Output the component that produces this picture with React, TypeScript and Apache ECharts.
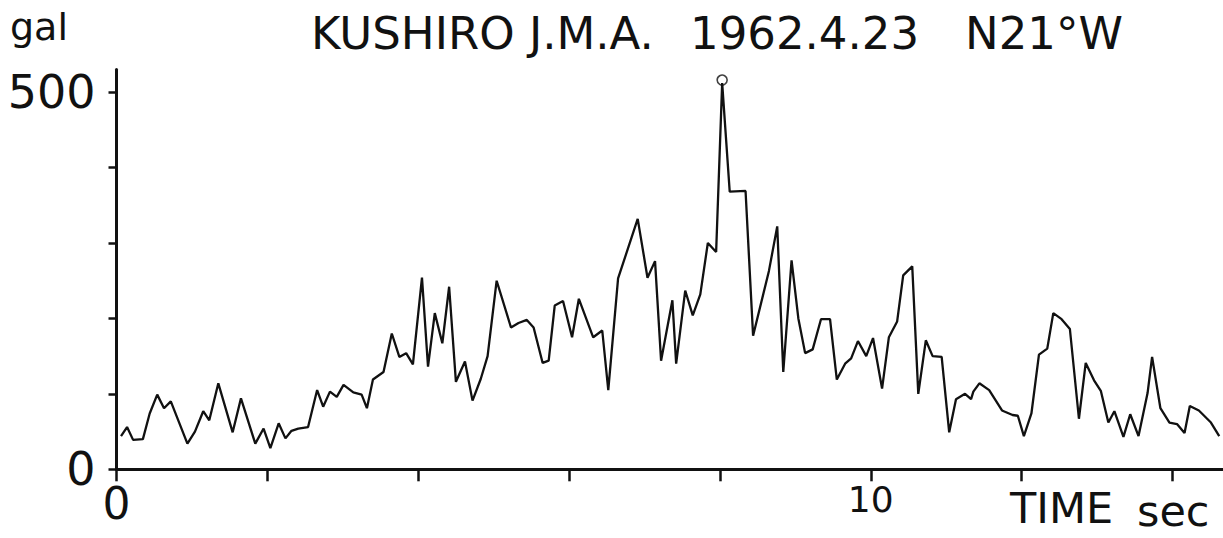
import React, { useEffect, useRef } from "react";
import * as echarts from "echarts";

const timeSec = [
  0.06, 0.14, 0.22, 0.35, 0.44, 0.54, 0.63, 0.72, 0.94, 1.04,
  1.15, 1.23, 1.35, 1.54, 1.65, 1.84, 1.95, 2.04, 2.15, 2.24,
  2.32, 2.41, 2.54, 2.66, 2.74, 2.83, 2.92, 3.01, 3.14, 3.25,
  3.32, 3.4, 3.54, 3.65, 3.75, 3.84, 3.93, 4.05, 4.13, 4.22,
  4.32, 4.41, 4.5, 4.62, 4.72, 4.83, 4.92, 5.04, 5.23, 5.33,
  5.44, 5.53, 5.65, 5.73, 5.81, 5.92, 6.04, 6.13, 6.32, 6.44,
  6.52, 6.65, 6.91, 7.04, 7.14, 7.22, 7.37, 7.42, 7.54, 7.64,
  7.74, 7.84, 7.95, 8.03, 8.13, 8.34, 8.44, 8.65, 8.76, 8.84,
  8.95, 9.04, 9.13, 9.23, 9.34, 9.46, 9.55, 9.66, 9.74, 9.83,
  9.94, 10.03, 10.15, 10.24, 10.35, 10.43, 10.55, 10.63, 10.73, 10.82,
  10.94, 11.04, 11.13, 11.25, 11.33, 11.36, 11.44, 11.57, 11.74, 11.88,
  11.95, 12.03, 12.13, 12.23, 12.34, 12.42, 12.53, 12.64, 12.76, 12.85,
  12.96, 13.05, 13.15, 13.23, 13.35, 13.44, 13.55, 13.67, 13.73, 13.84,
  13.96, 14.06, 14.16, 14.23, 14.35, 14.51, 14.62,
];
const accelGal = [
  44, 56, 39, 40, 74, 99, 81, 90, 34, 50,
  77, 65, 114, 49, 94, 34, 54, 28, 61, 41,
  51, 54, 56, 105, 83, 103, 96, 112, 102, 99,
  81, 119, 129, 180, 149, 154, 139, 254, 136, 207,
  167, 242, 116, 143, 91, 120, 150, 250, 188, 194,
  198, 188, 141, 144, 217, 223, 175, 226, 175, 184,
  105, 253, 332, 254, 276, 144, 224, 140, 237, 204,
  232, 300, 288, 512, 368, 369, 177, 263, 322, 129,
  277, 200, 154, 159, 199, 199, 119, 140, 147, 170,
  150, 174, 107, 175, 196, 257, 269, 100, 171, 150,
  149, 49, 93, 100, 93, 103, 114, 105, 78, 72,
  71, 44, 74, 152, 160, 207, 199, 186, 67, 141,
  118, 104, 62, 77, 43, 73, 44, 101, 149, 81,
  62, 60, 48, 84, 78, 62, 44,
];

const yTickValues = [0, 100, 200, 300, 400, 500];
const yLabelValues = [0, 500];
const xTickValues = [0, 2, 4, 6, 8, 10, 12, 14];
const xLabelValues = [0, 10];
const titleParts = ["KUSHIRO J.M.A.", "1962.4.23", "N21°W"];
const unitLabel = "gal";
const timeLabel = "TIME";
const secLabel = "sec";

const INK = "#111";
const FONT = "'DejaVu Sans', sans-serif";

export default function App() {
  const ref = useRef<HTMLDivElement>(null);
  useEffect(() => {
    if (!ref.current) return;
    const chart = echarts.init(ref.current, null, { renderer: "svg" });
    const points = timeSec.map((t, i) => [t, accelGal[i]]);
    let pk = 0;
    accelGal.forEach((v, i) => {
      if (v > accelGal[pk]) pk = i;
    });
    const txt = (text: string, x: number, y: number, size: number) => ({
      type: "text",
      x,
      y,
      style: {
        text,
        fill: INK,
        fontSize: size,
        fontFamily: FONT,
        align: "left",
        verticalAlign: "middle",
      },
    });
    chart.setOption({
      animation: false,
      backgroundColor: "#ffffff",
      grid: { left: 116.5, right: 0, top: 69.5, bottom: 68.7 },
      xAxis: {
        type: "value",
        min: 0,
        max: 14.67,
        axisLine: { show: true, onZero: false, lineStyle: { color: INK, width: 3 } },
        axisTick: {
          show: true,
          customValues: xTickValues,
          length: 12,
          lineStyle: { color: INK, width: 2.5 },
        },
        axisLabel: {
          customValues: xLabelValues,
          margin: 12,
          color: INK,
          fontFamily: FONT,
          formatter: (v: number) => (v === 0 ? "{a|0}" : "{b|" + v + "}"),
          rich: {
            a: { fontSize: 44, fontFamily: FONT, color: INK },
            b: { fontSize: 36, fontFamily: FONT, color: INK },
          },
        },
        splitLine: { show: false },
      },
      yAxis: {
        type: "value",
        min: 0,
        max: 530,
        axisLine: { show: true, lineStyle: { color: INK, width: 3 } },
        axisTick: {
          show: true,
          customValues: yTickValues,
          length: 8,
          lineStyle: { color: INK, width: 2.5 },
        },
        axisLabel: {
          customValues: yLabelValues,
          margin: 21,
          fontSize: 46,
          fontFamily: FONT,
          color: INK,
        },
        splitLine: { show: false },
      },
      series: [
        {
          type: "line",
          data: points,
          showSymbol: false,
          symbol: "none",
          lineStyle: { color: INK, width: 2.3 },
          z: 2,
        },
        {
          type: "scatter",
          data: [points[pk]],
          symbol: "circle",
          symbolSize: 10,
          symbolOffset: [0, -3],
          itemStyle: { color: "rgba(0,0,0,0)", borderColor: INK, borderWidth: 1.6 },
          z: 3,
        },
      ],
      graphic: [
        txt(unitLabel, 10, 27, 38),
        txt(titleParts[0], 311, 33, 45),
        txt(titleParts[1], 690, 33, 45),
        txt(titleParts[2], 965, 33, 45),
        txt(timeLabel, 1010, 508, 43),
        txt(secLabel, 1137, 511, 43),
      ],
    });
    return () => chart.dispose();
  }, []);
  return (
    <div
      ref={ref}
      style={{ position: "fixed", left: 0, top: 0, width: 1223, height: 538, background: "#fff" }}
    />
  );
}
